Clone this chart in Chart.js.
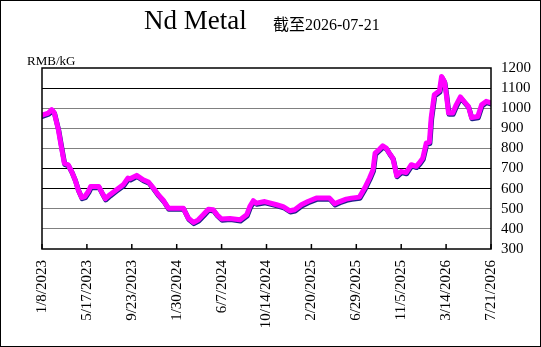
<!DOCTYPE html>
<html>
<head>
<meta charset="utf-8">
<script src="https://cdn.jsdelivr.net/npm/chart.js@4"></script>
<style>
  body { margin: 0; background: #fff; }
  #wrap { position: relative; width: 541px; height: 347px; overflow: hidden; }
  #frame { position: absolute; left: 0; top: 0; width: 539px; height: 345px; border: 1px solid #000; pointer-events: none; }
  canvas { position: absolute; left: 0; top: 0; }
  .txt { position: absolute; white-space: nowrap; color: #000; }
  #title { left: 144px; top: 7px; font: 27px/27px "Liberation Serif", serif; }
  #sub { left: 273px; top: 17px; font: 16px/16px "Liberation Serif", "Noto Sans CJK SC", serif; }
  #unit { left: 27px; top: 54px; font: 13px/13px "Liberation Serif", serif; }
</style>
</head>
<body>
<div id="wrap">
  <canvas id="myChart" width="541" height="347"></canvas>
  <div class="txt" id="title">Nd Metal</div>
  <div class="txt" id="sub">截至2026-07-21</div>
  <div class="txt" id="unit">RMB/kG</div>
  <div id="frame"></div>
</div>
<script>
// days since 1/8/2023 and price (RMB/kG)
var days = [0, 18, 28, 35, 47, 56, 64, 75, 85, 95, 104, 114, 123, 133, 140, 163, 173, 182, 195, 214,
  233, 247, 253, 272, 291, 306, 320, 334, 349, 363, 406, 420, 435, 449, 463, 478, 492, 503, 516, 540,
  569, 588, 597, 607, 616, 640, 674, 693, 712, 726, 745, 764, 788, 807, 826, 841, 855, 874, 889, 912,
  927, 941, 951, 957, 970, 979, 989, 998, 1008, 1019, 1032, 1046, 1061, 1075, 1085, 1094, 1104, 1113, 1118, 1127,
  1142, 1148, 1156, 1161, 1168, 1180, 1190, 1202, 1214, 1225, 1234, 1252, 1263, 1276, 1290];
var prices = [965, 976, 993, 978, 893, 803, 727, 719, 686, 644, 595, 556, 561, 586, 611, 611, 578, 550, 570, 595,
  619, 653, 649, 666, 644, 633, 603, 570, 541, 503, 503, 454, 432, 445, 470, 498, 495, 470, 449, 452,
  445, 470, 511, 540, 528, 536, 520, 511, 490, 495, 520, 536, 553, 553, 553, 525, 536, 548, 553, 558,
  603, 653, 694, 777, 797, 813, 802, 777, 752, 665, 686, 680, 719, 711, 730, 752, 827, 830, 951, 1067,
  1087, 1158, 1133, 1076, 976, 976, 1017, 1056, 1031, 1009, 954, 959, 1017, 1034, 1026];
var tickDays = [0, 129, 258, 387, 516, 645, 774, 903, 1032, 1161, 1290];
var tickLabels = ['1/8/2023', '5/17/2023', '9/23/2023', '1/30/2024', '6/7/2024', '10/14/2024',
  '2/20/2025', '6/29/2025', '11/5/2025', '3/14/2026', '7/21/2026'];
var darkLines = [1100, 700, 600];

var points = days.map(function (d, i) { return { x: d, y: prices[i] }; });

var frameAndShadow = {
  id: 'frameAndShadow',
  beforeDatasetsDraw: function (chart) {
    var ctx = chart.ctx;
    ctx.save();
    ctx.shadowColor = '#20208a';
    ctx.shadowOffsetX = 0.5;
    ctx.shadowOffsetY = 1.2;
    ctx.shadowBlur = 0;
  },
  afterDatasetsDraw: function (chart) {
    chart.ctx.restore();
  },
  afterDraw: function (chart) {
    var ctx = chart.ctx, a = chart.chartArea, xs = chart.scales.x;
    ctx.save();
    ctx.strokeStyle = '#000';
    ctx.lineWidth = 1.5;
    ctx.strokeRect(a.left, a.top, a.right - a.left, a.bottom - a.top);
    tickDays.forEach(function (d) {
      var px = xs.getPixelForValue(d);
      ctx.beginPath();
      ctx.moveTo(px, a.bottom);
      ctx.lineTo(px, a.bottom - 5);
      ctx.stroke();
    });
    ctx.restore();
  }
};

var chart = new Chart(document.getElementById('myChart'), {
  type: 'line',
  data: {
    datasets: [{
      data: points,
      borderColor: '#ff00ff',
      borderWidth: 5,
      pointRadius: 0,
      tension: 0,
      borderJoinStyle: 'round',
      borderCapStyle: 'round'
    }]
  },
  options: {
    responsive: false,
    animation: false,
    devicePixelRatio: 1,
    layout: { padding: { left: 42, top: 68, right: 0, bottom: 0 } },
    plugins: { legend: { display: false }, tooltip: { enabled: false } },
    scales: {
      x: {
        type: 'linear',
        min: 0,
        max: 1290,
        afterBuildTicks: function (scale) {
          scale.ticks = tickDays.map(function (d) { return { value: d }; });
        },
        afterFit: function (scale) { scale.height = 98; },
        grid: { drawOnChartArea: false, drawTicks: false },
        border: { display: false },
        ticks: {
          autoSkip: false,
          minRotation: 90,
          maxRotation: 90,
          padding: 11,
          color: '#000',
          font: { family: 'Liberation Serif', size: 15 },
          callback: function (v) {
            var i = tickDays.indexOf(v);
            return i >= 0 ? tickLabels[i] : '';
          }
        }
      },
      y: {
        position: 'right',
        min: 300,
        max: 1200,
        afterFit: function (scale) { scale.width = 50; },
        grid: {
          drawTicks: false,
          color: function (c) {
            var v = c.tick.value;
            if (v === 300 || v === 1200) return 'rgba(0,0,0,0)';
            return darkLines.indexOf(v) >= 0 ? '#000' : '#808080';
          },
          lineWidth: 1
        },
        border: { display: false },
        ticks: {
          stepSize: 100,
          autoSkip: false,
          padding: 10,
          color: '#000',
          font: { family: 'Liberation Serif', size: 15 },
          callback: function (v) { return String(v); }
        }
      }
    }
  },
  plugins: [frameAndShadow]
});
</script>
</body>
</html>
